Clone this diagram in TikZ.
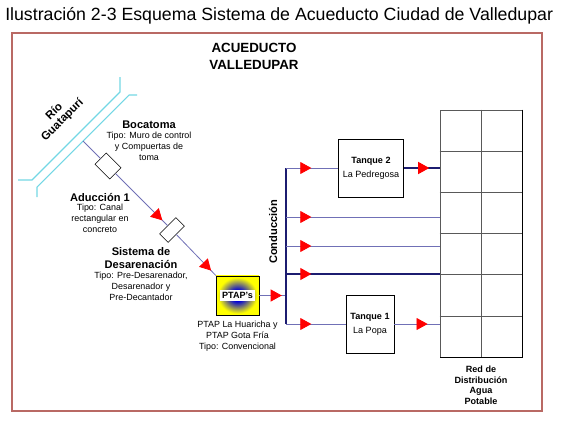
\documentclass[tikz,border=0pt]{standalone}
\usepackage{fontspec}
\setmainfont{Liberation Sans}
\usetikzlibrary{positioning,calc,arrows.meta,decorations.markings}
\definecolor{marco}{RGB}{185,105,100}
\definecolor{rio}{RGB}{115,215,228}
\definecolor{azul}{RGB}{28,28,112}
\definecolor{lila}{RGB}{112,112,182}
\pgfdeclareradialshading{ptapfondo}{\pgfpoint{0bp}{0bp}}{color(0bp)=(blue!85!black); color(7bp)=(blue!85!black); color(23bp)=(yellow); color(50bp)=(yellow)}

\begin{document}
\begin{tikzpicture}[x=0.75pt,y=-0.75pt,node distance=2pt,
  titulo/.style={font=\bfseries\fontsize{8.3}{9.8}\selectfont,align=center,inner sep=0pt},
  nota/.style={font=\fontsize{6.7}{8.2}\selectfont,align=center,inner sep=0pt},
  tanque/.style={draw,fill=white,minimum height=43.5pt,align=center,
                 font=\fontsize{6.8}{10.5}\selectfont},
  pieza/.style={draw,fill=white,rotate=-45,inner sep=0pt},
  tubo/.style={lila,line width=0.6pt},
  rama/.style={azul,line width=1pt},
  flecha/.style={postaction={decorate},decoration={markings,
      mark=at position #1 with {\arrow{Triangle[length=8.3pt,width=9pt,color=red]}}}}]
\useasboundingbox (0,0) rectangle (570,421);

\node[anchor=west,inner sep=0pt,font=\fontsize{13.3}{15}\selectfont] (ilus) at (5,16)
  {Ilustración 2-3 Esquema Sistema de Acueducto Ciudad de Valledupar};
\draw[marco,line width=0.8pt] (12,33) rectangle (542,411);
\node[align=center,inner sep=0pt,font=\bfseries\fontsize{10}{12.75}\selectfont] (acued) at (254,56)
  {ACUEDUCTO\\VALLEDUPAR};

% rio y captacion
\draw[rio,line width=0.8pt] (18,180) -- (32,180) -- (120,92) -- (120,77);
\draw[rio,line width=0.8pt] (37,197) -- (37,187) -- (129,95) -- (137,95);
\node[titulo,rotate=45,font=\bfseries\fontsize{8.6}{8.6}\selectfont] (rio) at (58.5,116) {Río\\Guatapurí};
\coordinate (toma) at (83,141);

\node[pieza,minimum width=15.75pt,minimum height=12pt] (pz1) at (108,166) {};
\node[pieza,minimum width=9pt,minimum height=17.25pt] (pz2) at (172,230) {};
\node[draw,minimum width=32pt,minimum height=29.5pt,shading=ptapfondo] (ptap) at (237.5,295.5) {};
\node[fill=white,inner sep=1.4pt,font=\bfseries\fontsize{6.8}{8}\selectfont] (ptaptxt) at (ptap) {PTAP's};

\draw[tubo] (toma) -- (pz1);
\draw[tubo,flecha=0.9] (pz1) -- (pz2);
\draw[tubo,flecha=0.88] (pz2) -- (ptap.north west);

\node[titulo] (boca) at (149,125) {Bocatoma};
\node[nota,below=2pt of boca] (bocatipo) {Tipo: Muro de control\\y Compuertas de\\toma};
\node[titulo] (aduc) at (100,197) {Aducción 1};
\node[nota,below=2pt of aduc] (aductipo) {Tipo: Canal\\rectangular en\\concreto};
\node[titulo] (desar) at (141,258.5) {Sistema de\\Desarenación};
\node[nota,below=2pt of desar] (desartipo) {Tipo: Pre-Desarenador,\\Desarenador y\\Pre-Decantador};
\node[nota,below=4pt of ptap] (ptaptipo) {PTAP La Huaricha y\\PTAP Gota Fría\\Tipo: Convencional};

% conduccion y distribucion
\node[draw=gray!70!black,minimum width=61.5pt,minimum height=185.25pt] (rejilla) at (481,233.5) {};
\draw[gray!70!black] (rejilla.north) -- (rejilla.south);
\foreach \i in {1,...,5}
  \draw[gray!70!black] ($(rejilla.north west)!\i/6!(rejilla.south west)$) --
                       ($(rejilla.north east)!\i/6!(rejilla.south east)$);
\draw[line width=0.9pt] (rejilla.north east) -- (rejilla.south east) -- (rejilla.south west);
\node[titulo,font=\bfseries\fontsize{6.8}{8.2}\selectfont,below=6pt of rejilla] (redtxt)
  {Red de\\Distribución\\Agua\\Potable};

\node[tanque,minimum width=48pt] (tanque2) at (371,168) {\textbf{Tanque 2}\\La Pedregosa};
\node[tanque,minimum width=34.5pt] (tanque1) at (370,324) {\textbf{Tanque 1}\\La Popa};

\foreach \y [count=\i] in {168,217,246,274,324}
  \coordinate (j\i) at (286,\y);
\node[titulo,rotate=90] (conduc) at (273,232) {Conducción};

\draw[tubo,flecha=17pt] (ptap.east) -- (ptap.east -| j1);
\draw[rama] (j1) -- (j5);
\draw[tubo,flecha=19pt] (j1) -- (tanque2);
\draw[rama,flecha=19pt] (tanque2) -- (tanque2 -| rejilla.west);
\draw[tubo,flecha=19pt] (j2) -- (j2 -| rejilla.west);
\draw[tubo,flecha=19pt] (j3) -- (j3 -| rejilla.west);
\draw[rama,flecha=19pt] (j4) -- (j4 -| rejilla.west);
\draw[tubo,flecha=19pt] (j5) -- (tanque1);
\draw[tubo,flecha=25pt] (tanque1) -- (tanque1 -| rejilla.west);
\end{tikzpicture}
\end{document}
